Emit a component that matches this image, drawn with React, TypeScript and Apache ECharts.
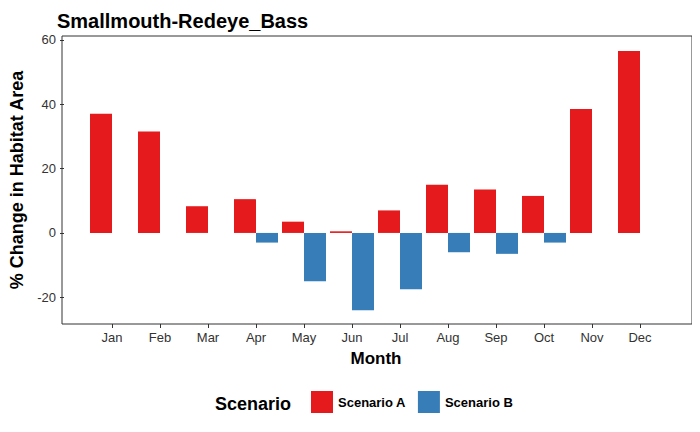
import React, { useEffect, useRef } from "react";
import * as echarts from "echarts";

const months = ["Jan","Feb","Mar","Apr","May","Jun","Jul","Aug","Sep","Oct","Nov","Dec"];
const scenarioA = [37, 31.5, 8.3, 10.5, 3.5, 0.5, 7, 15, 13.5, 11.5, 38.5, 56.5];
const scenarioB = [null, null, null, -3, -15, -24, -17.5, -6, -6.5, -3, null, null];
const yTicks = [-20, 0, 20, 40, 60];

export default function App() {
  const ref = useRef<HTMLDivElement>(null);
  useEffect(() => {
    const chart = echarts.init(ref.current!, null, { renderer: "svg" });
    chart.setOption({
      animation: false,
      textStyle: { fontFamily: "Liberation Sans, Arial, sans-serif" },
      title: { text: "Smallmouth-Redeye_Bass", left: 52, top: 6, textStyle: { fontSize: 20, fontWeight: "bold", color: "#000" } },
      grid: { left: 86, right: 36, top: 36, bottom: 108 },
      xAxis: {
        type: "category", data: months,
        axisLine: { show: false, onZero: false },
        axisTick: { show: true, length: 4, alignWithLabel: true, lineStyle: { color: "#333" } },
        axisLabel: { color: "#333", fontSize: 13, margin: 7 },
        name: "Month", nameLocation: "middle", nameGap: 26,
        nameTextStyle: { fontSize: 17, fontWeight: "bold", color: "#000" },
      },
      yAxis: {
        type: "value", min: -28.3, max: 61.2, offset: 24,
        axisLabel: { color: "#333", fontSize: 13, customValues: yTicks },
        axisTick: { show: true, length: 4, customValues: yTicks, lineStyle: { color: "#333" } },
        splitLine: { show: false }, axisLine: { show: false },
        name: "% Change in Habitat Area", nameLocation: "middle", nameGap: 38,
        nameTextStyle: { fontSize: 18, fontWeight: "bold", color: "#000" },
      },
      legend: {
        bottom: 14, left: 306, itemWidth: 22, itemHeight: 22, itemGap: 12,
        textStyle: { fontSize: 13, fontWeight: "bold", color: "#000" },
        data: [{ name: "Scenario A", icon: "rect" }, { name: "Scenario B", icon: "rect" }],
      },
      graphic: [
        { type: "rect", shape: { x: 62, y: 36, width: 630, height: 288 }, style: { fill: "none", stroke: "#333", lineWidth: 1 }, silent: true },
        { type: "text", left: 215, top: 395, style: { text: "Scenario", fontSize: 18, fontWeight: "bold", fill: "#000", fontFamily: "Liberation Sans, Arial, sans-serif" } },
      ],
      series: [
        { name: "Scenario A", type: "bar", data: scenarioA, barWidth: 22, barGap: "0%", itemStyle: { color: "#E41A1C" } },
        { name: "Scenario B", type: "bar", data: scenarioB, barWidth: 22, barGap: "0%", itemStyle: { color: "#377EB8" } },
      ],
    });
    return () => chart.dispose();
  }, []);
  return <div ref={ref} style={{ width: 700, height: 432, margin: -8 }} />;
}
